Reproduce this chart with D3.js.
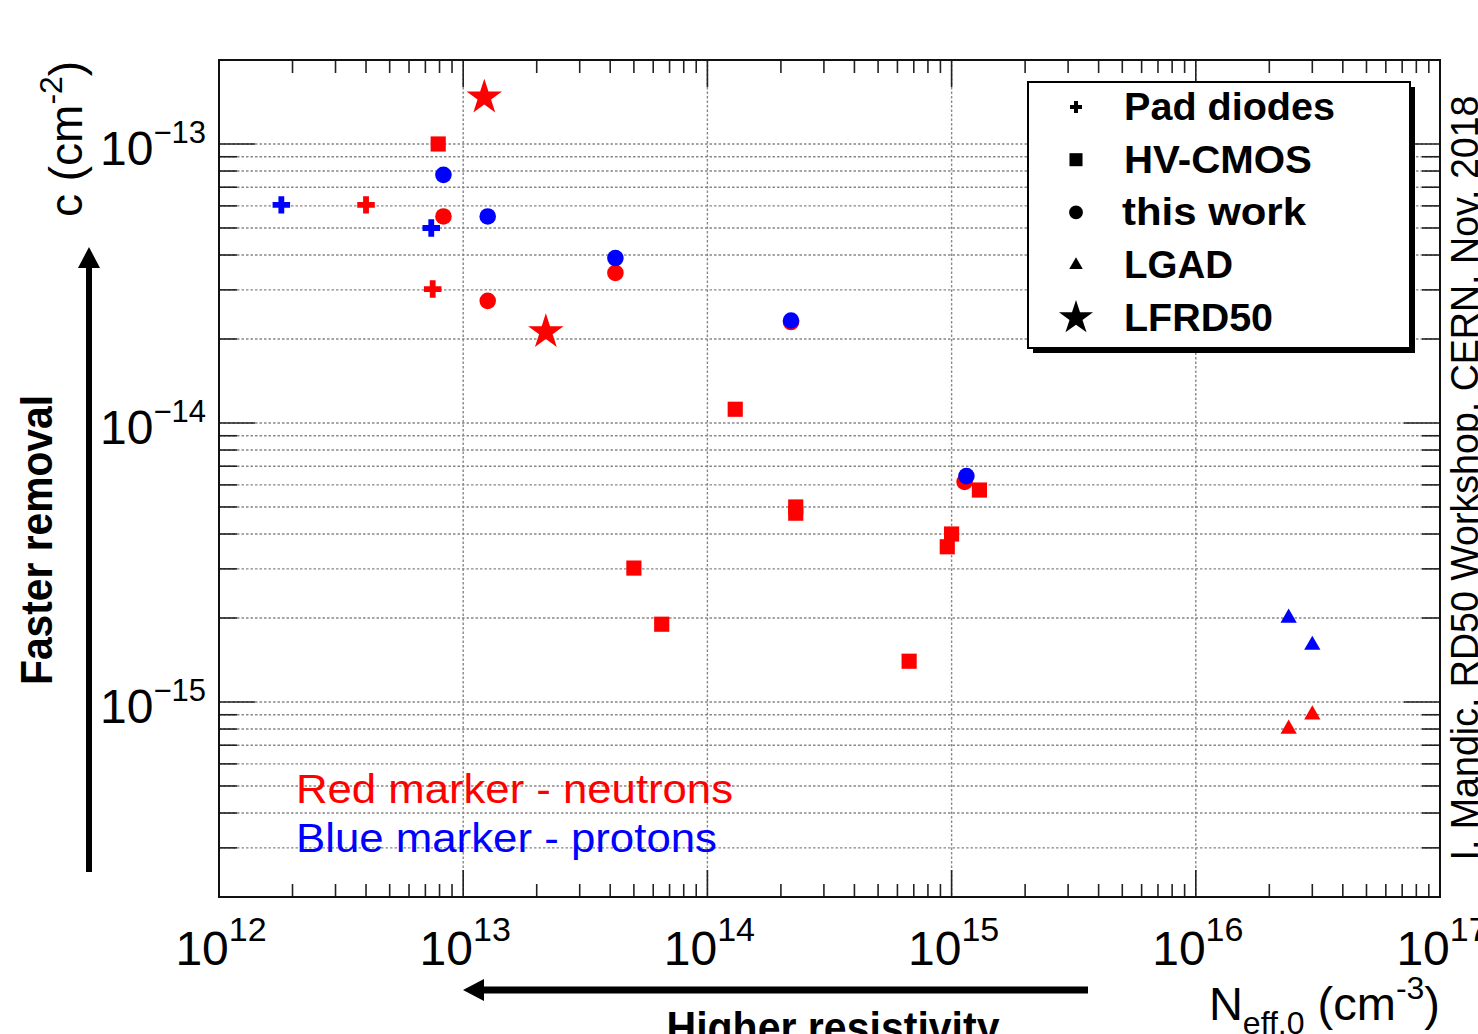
<!DOCTYPE html>
<html lang="en">
<head>
    <meta charset="UTF-8">
    <title>Introduction rate c vs N_eff,0</title>
    <script src="https://d3js.org/d3.v7.min.js"></script>
    <style>
        body {
            margin: 0;
            padding: 0;
            background: #fff;
        }
        svg text {
            font-family: "Liberation Sans", Arial, sans-serif;
        }
    </style>
</head>
<body>
    <svg width="1478" height="1034"></svg>

    <script>
        // data (red = neutrons, blue = protons)
        const padX_n = [4.0e12, 7.5e12];
        const padY_n = [6.05e-14, 3.02e-14];
        const padX_p = [1.8e12, 7.4e12];
        const padY_p = [6.05e-14, 5.0e-14];

        const hvX_n = [7.9e12, 1.3e14, 2.3e14, 2.3e14, 5.0e13, 6.5e13, 6.7e14, 1.0e15, 9.6e14, 1.3e15];
        const hvY_n = [1.0e-13, 1.12e-14, 5.0e-15, 4.75e-15, 3.02e-15, 1.9e-15, 1.4e-15, 4.0e-15, 3.6e-15, 5.75e-15];

        const workX_n = [8.3e12, 1.26e13, 4.2e13, 2.2e14, 1.13e15];
        const workY_n = [5.5e-14, 2.74e-14, 3.45e-14, 2.3e-14, 6.15e-15];
        const workX_p = [8.3e12, 1.26e13, 4.2e13, 2.2e14, 1.15e15];
        const workY_p = [7.75e-14, 5.5e-14, 3.9e-14, 2.33e-14, 6.45e-15];

        const lgadX_n = [2.4e16, 3.0e16];
        const lgadY_n = [8.0e-16, 9.0e-16];
        const lgadX_p = [2.4e16, 3.0e16];
        const lgadY_p = [2.0e-15, 1.6e-15];

        const rd50X_n = [1.22e13, 2.18e13];
        const rd50Y_n = [1.47e-13, 2.12e-14];

        const legendNames = ["Pad diodes", "HV-CMOS", "this work", "LGAD", "LFRD50"];
        const legendLengths = [211, 188, 184, 109, 149];

        const xMajor = [1e12, 1e13, 1e14, 1e15, 1e16, 1e17];
        const xExp = ["12", "13", "14", "15", "16", "17"];
        const yMajor = [1e-15, 1e-14, 1e-13];
        const yExp = ["\u221215", "\u221214", "\u221213"];

        const pLeft = 219, pRight = 1440, pTop = 60, pBottom = 897;
        const RED = "#ff0000", BLUE = "#0000ff";

        const svg = d3.select("svg");

        const x = d3.scaleLog().domain([1e12, 1e17]).range([pLeft, pRight]);
        const y = d3.scaleLog().domain([2e-16, 2e-13]).range([pBottom, pTop]);

        const isMajor = v => Math.abs(Math.log10(v) - Math.round(Math.log10(v))) < 1e-6;

        // grid: dotted, every y tick, only major x
        const grid = svg.append("g")
            .attr("stroke", "#888")
            .attr("stroke-width", 1.4)
            .attr("stroke-dasharray", "2.5,2");
        grid.selectAll("line.gy")
            .data(y.ticks())
            .enter().append("line")
            .attr("x1", pLeft).attr("x2", pRight)
            .attr("y1", d => y(d)).attr("y2", d => y(d));
        grid.selectAll("line.gx")
            .data(xMajor.slice(1, -1))
            .enter().append("line")
            .attr("y1", pTop).attr("y2", pBottom)
            .attr("x1", d => x(d)).attr("x2", d => x(d));

        // ticks on all four sides
        const ticks = svg.append("g").attr("stroke", "#222").attr("stroke-width", 1.6);
        x.ticks().forEach(v => {
            const len = isMajor(v) ? 27 : 13;
            ticks.append("line").attr("x1", x(v)).attr("x2", x(v)).attr("y1", pBottom).attr("y2", pBottom - len);
            ticks.append("line").attr("x1", x(v)).attr("x2", x(v)).attr("y1", pTop).attr("y2", pTop + len);
        });
        y.ticks().forEach(v => {
            const len = isMajor(v) ? 36 : 18;
            ticks.append("line").attr("y1", y(v)).attr("y2", y(v)).attr("x1", pLeft).attr("x2", pLeft + len);
            ticks.append("line").attr("y1", y(v)).attr("y2", y(v)).attr("x1", pRight).attr("x2", pRight - len);
        });

        // frame
        svg.append("rect")
            .attr("x", pLeft).attr("y", pTop)
            .attr("width", pRight - pLeft).attr("height", pBottom - pTop)
            .attr("fill", "none").attr("stroke", "#111").attr("stroke-width", 2);

        // tick labels
        xMajor.forEach((v, i) => {
            const t = svg.append("text")
                .attr("x", x(v) + 2).attr("y", 965)
                .attr("text-anchor", "middle")
                .attr("font-size", 48).attr("fill", "#000");
            t.append("tspan").text("10");
            t.append("tspan").attr("dy", -24).attr("font-size", 34).text(xExp[i]);
        });
        yMajor.forEach((v, i) => {
            const t = svg.append("text")
                .attr("x", 206).attr("y", y(v) + 21)
                .attr("text-anchor", "end")
                .attr("font-size", 48).attr("fill", "#000");
            t.append("tspan").text("10");
            t.append("tspan").attr("dy", -22).attr("font-size", 31).text(yExp[i]);
        });

        // axis titles
        const yt = svg.append("text")
            .attr("transform", "translate(82,217) rotate(-90)")
            .attr("font-size", 46);
        yt.append("tspan").text("c (cm");
        yt.append("tspan").attr("dy", -20).attr("font-size", 32).text("-2");
        yt.append("tspan").attr("dy", 20).text(")");

        const xt = svg.append("text")
            .attr("x", 1440).attr("y", 1020)
            .attr("text-anchor", "end")
            .attr("font-size", 47);
        xt.append("tspan").text("N");
        xt.append("tspan").attr("dy", 14).attr("font-size", 32).text("eff,0");
        xt.append("tspan").attr("dy", -14).text(" (cm");
        xt.append("tspan").attr("dy", -21).attr("font-size", 32).text("-3");
        xt.append("tspan").attr("dy", 21).text(")");

        // markers
        const series = [
            { xs: hvX_n, ys: hvY_n, sym: d3.symbolSquare, size: 230, color: RED },
            { xs: padX_n, ys: padY_n, sym: d3.symbolCross, size: 170, color: RED },
            { xs: workX_n, ys: workY_n, sym: d3.symbolCircle, size: 215, color: RED },
            { xs: lgadX_n, ys: lgadY_n, sym: d3.symbolTriangle, size: 115, color: RED },
            { xs: rd50X_n, ys: rd50Y_n, sym: d3.symbolStar, size: 390, color: RED },
            { xs: padX_p, ys: padY_p, sym: d3.symbolCross, size: 170, color: BLUE },
            { xs: workX_p, ys: workY_p, sym: d3.symbolCircle, size: 215, color: BLUE },
            { xs: lgadX_p, ys: lgadY_p, sym: d3.symbolTriangle, size: 115, color: BLUE }
        ];
        series.forEach(s => {
            const pts = s.xs.map((v, i) => [v, s.ys[i]]);
            svg.append("g").selectAll("path")
                .data(pts)
                .enter().append("path")
                .attr("transform", d => `translate(${x(d[0])},${y(d[1])})`)
                .attr("d", d3.symbol().type(s.sym).size(s.size))
                .attr("fill", s.color);
        });

        // legend
        const lg = svg.append("g");
        lg.append("rect").attr("x", 1033).attr("y", 87).attr("width", 382).attr("height", 266).attr("fill", "#000");
        lg.append("rect").attr("x", 1028).attr("y", 82).attr("width", 382).attr("height", 266)
            .attr("fill", "#fff").attr("stroke", "#000").attr("stroke-width", 2);
        const legSyms = [
            [d3.symbolCross, 80], [d3.symbolSquare, 170], [d3.symbolCircle, 150],
            [d3.symbolTriangle, 80], [d3.symbolStar, 360]
        ];
        legendNames.forEach((name, i) => {
            const cy = 107 + i * 52.7;
            lg.append("path")
                .attr("transform", `translate(1076,${cy})`)
                .attr("d", d3.symbol().type(legSyms[i][0]).size(legSyms[i][1]))
                .attr("fill", "#000");
            lg.append("text")
                .attr("x", name === "this work" ? 1122 : 1124).attr("y", cy + 13)
                .attr("font-size", 38).attr("font-weight", "bold")
                .attr("font-family", name === "this work" ? "Lato, 'Open Sans', sans-serif" : null)
                .attr("textLength", legendLengths[i]).attr("lengthAdjust", "spacingAndGlyphs")
                .text(name);
        });

        // colour notes
        svg.append("text").attr("x", 296).attr("y", 803)
            .attr("font-size", 41).attr("fill", RED)
            .attr("textLength", 437).attr("lengthAdjust", "spacingAndGlyphs")
            .text("Red marker - neutrons");
        svg.append("text").attr("x", 296).attr("y", 852)
            .attr("font-size", 41).attr("fill", BLUE)
            .attr("textLength", 421).attr("lengthAdjust", "spacingAndGlyphs")
            .text("Blue marker - protons");

        // arrows
        svg.append("line").attr("x1", 89).attr("x2", 89).attr("y1", 872).attr("y2", 264)
            .attr("stroke", "#000").attr("stroke-width", 6);
        svg.append("path").attr("d", "M78,268 L89,247 L100,268 Z").attr("fill", "#000");
        svg.append("line").attr("x1", 1088).attr("x2", 478).attr("y1", 990).attr("y2", 990)
            .attr("stroke", "#000").attr("stroke-width", 7);
        svg.append("path").attr("d", "M484,979 L463,990 L484,1001 Z").attr("fill", "#000");

        svg.append("text")
            .attr("transform", "translate(52,540) rotate(-90)")
            .attr("text-anchor", "middle")
            .attr("font-family", "Lato, 'Open Sans', sans-serif")
            .attr("font-size", 44).attr("font-weight", "bold")
            .attr("textLength", 290).attr("lengthAdjust", "spacingAndGlyphs")
            .text("Faster removal");
        svg.append("text")
            .attr("x", 833).attr("y", 1043)
            .attr("text-anchor", "middle")
            .attr("font-family", "Lato, 'Open Sans', sans-serif")
            .attr("font-size", 44).attr("font-weight", "bold")
            .attr("textLength", 333).attr("lengthAdjust", "spacingAndGlyphs")
            .text("Higher resistivity");

        svg.append("text")
            .attr("transform", "translate(1478,478) rotate(-90)")
            .attr("text-anchor", "middle")
            .attr("font-family", "Lato, 'Open Sans', sans-serif")
            .attr("font-size", 38)
            .attr("textLength", 765).attr("lengthAdjust", "spacingAndGlyphs")
            .text("I. Mandic, RD50 Workshop, CERN, Nov. 2018");
    </script>
</body>
</html>
